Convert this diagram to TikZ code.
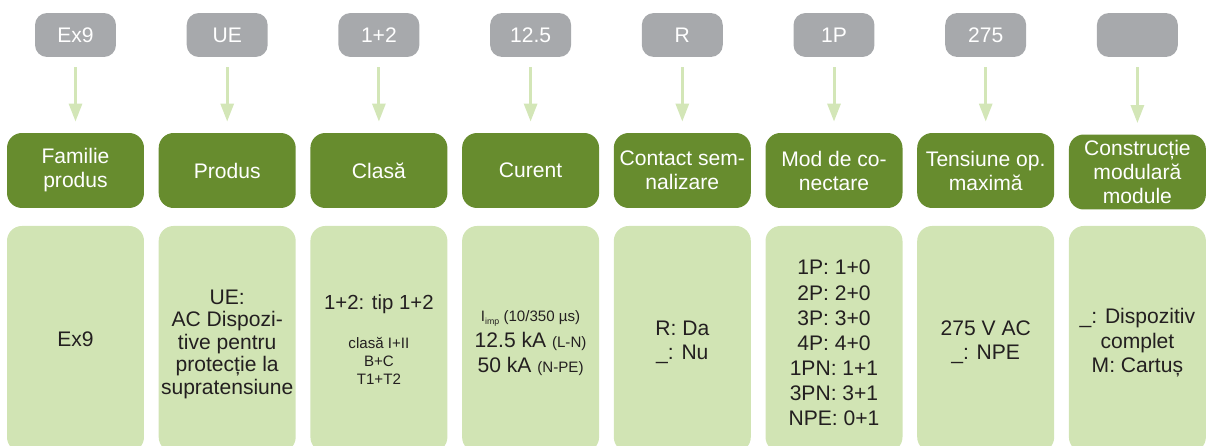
\documentclass[tikz,border=0pt]{standalone}
\usepackage{fontspec}
\setmainfont{Liberation Sans}
\usetikzlibrary{arrows.meta}
\definecolor{grayc}{HTML}{A7A9AC}
\definecolor{dkgreen}{HTML}{678C2E}
\definecolor{ltgreen}{HTML}{D1E4B4}
\definecolor{arrc}{HTML}{D3E6B7}
\definecolor{txt}{HTML}{231F20}
\newcommand{\smallfs}{\fontsize{8.6}{10.5}\selectfont}
\tikzset{
  gbox/.style={fill=grayc, rounded corners=6.8pt, minimum width=46.1pt, minimum height=25pt, inner sep=0pt, text=white, font=\fontsize{12}{14}\selectfont},
  hbox/.style={fill=dkgreen, rounded corners=8.5pt, minimum width=78pt, minimum height=42.7pt, inner sep=1pt, text=white, align=center, font=\fontsize{12}{13.7}\selectfont},
  bbox/.style={fill=ltgreen, rounded corners=8.5pt, minimum width=78pt, minimum height=128.7pt, inner sep=0pt},
  btext/.style={text=txt, align=center, font=\fontsize{12}{12.8}\selectfont, inner sep=0pt},
  arr/.style={draw=arrc, line width=1.7pt, -{Triangle[width=7.4pt,length=10.25pt]}, shorten <=5.7pt, shorten >=6.3pt}
}
\begin{document}
\begin{tikzpicture}[x=0.5694pt, y=-0.5694pt]
\useasboundingbox (0,0) rectangle (1209,446);
\clip (0,0) rectangle (1209,446);
% gray code boxes
\node[gbox] (g0) at (75.5,35) {Ex9};
\node[gbox] (g1) at (227.2,35) {UE};
\node[gbox] (g2) at (378.9,35) {1+2};
\node[gbox] (g3) at (530.6,35) {12.5};
\node[gbox] (g4) at (682.3,35) {R};
\node[gbox] (g5) at (834.0,35) {1P};
\node[gbox] (g6) at (985.7,35) {275};
\node[gbox] (g7) at (1137.4,35) {};
% header boxes
\node[hbox] (h0) at (75.5,170.5) {Familie\\produs};
\node[hbox] (h1) at (227.2,170.5) {Produs};
\node[hbox] (h2) at (378.9,170.5) {Clasă};
\node[hbox] (h3) at (530.6,170.5) {Curent};
\node[hbox] (h4) at (682.3,170.5) {Contact sem-\\nalizare};
\node[hbox] (h5) at (834.0,170.5) {Mod de co-\\nectare};
\node[hbox] (h6) at (985.7,170.5) {Tensiune op.\\maximă};
\node[hbox] (h7) at (1137.4,172) {Construcție\\modulară\\module};
% arrows
\foreach \i in {0,...,7} { \draw[arr] (g\i) -- (h\i); }
% bottom boxes
\node[bbox] (b0) at (75.5,339) {};
\node[bbox] (b1) at (227.2,339) {};
\node[bbox] (b2) at (378.9,339) {};
\node[bbox] (b3) at (530.6,339) {};
\node[bbox] (b4) at (682.3,339) {};
\node[bbox] (b5) at (834.0,339) {};
\node[bbox] (b6) at (985.7,339) {};
\node[bbox] (b7) at (1137.4,339) {};
% bottom texts
\node[btext] (t0) at (b0) {Ex9};
\node[btext] (t1) at (227.2,344) {UE:\\AC Dispozi-\\tive pentru\\protecție la\\supratensiune};
\node[btext] (t2) at (378.9,340) {\fontsize{11.6}{14}\selectfont 1+2: tip 1+2\\[9.4pt]{\smallfs clasă I+II}\\[-2.6pt]{\smallfs B+C}\\[-2.6pt]{\smallfs T1+T2}};
\node[btext, font=\fontsize{12}{14}\selectfont] (t3) at (530.6,343) {{\smallfs I\raisebox{-1.6pt}{\fontsize{5}{6}\selectfont imp} (10/350 µs)}\\[0.8pt]12.5 kA {\smallfs (L-N)}\\50 kA {\smallfs (N-PE)}};
\node[btext, font=\fontsize{12}{13.7}\selectfont] (t4) at (682.3,342) {R: Da\\\_: Nu};
\node[btext, font=\fontsize{12}{14.3}\selectfont] (t5) at (834.0,343) {1P: 1+0\\2P: 2+0\\3P: 3+0\\4P: 4+0\\1PN: 1+1\\3PN: 3+1\\NPE: 0+1};
\node[btext, font=\fontsize{12}{13.7}\selectfont] (t6) at (985.7,342) {275 V AC\\\_: NPE};
\node[btext, font=\fontsize{12}{14}\selectfont] (t7) at (1137.4,343) {\_: Dispozitiv\\complet\\M: Cartuș};
\end{tikzpicture}
\end{document}
